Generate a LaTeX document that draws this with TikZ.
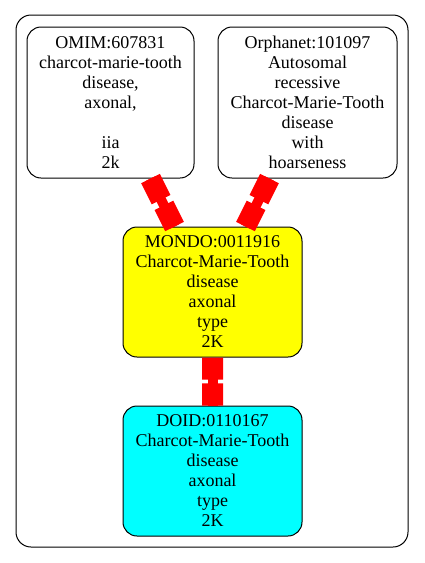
\documentclass[tikz,border=0pt]{standalone}
\usepackage{fontspec}
\setmainfont{Liberation Serif}
\usetikzlibrary{calc}

\definecolor{mondofill}{RGB}{255,255,0}
\definecolor{doidfill}{RGB}{0,255,255}
\definecolor{linkred}{RGB}{255,0,0}

\tikzset{
  term/.style = {draw, rounded corners=14pt, align=center, inner sep=0pt, line width=1pt,
    font=\rmfamily\fontsize{18}{20}\selectfont},
  link/.style = {linkred, line width=21pt},
  neck/.style = {linkred, line width=10pt},
}

\begin{document}
\begin{tikzpicture}[x=1pt, y=-1pt]
  \useasboundingbox (0,0) rectangle (424,563);
  % cluster frame
  \draw[rounded corners=15pt, line width=1pt] (16,15) rectangle (408,547);

  \node[term, minimum width=167pt, minimum height=151pt] (omim) at (110.5,102.5)
    {OMIM:607831\\charcot-marie-tooth\\disease,\\axonal,\\\mbox{}\\iia\\2k};
  \node[term, minimum width=179pt, minimum height=151pt] (orpha) at (307.5,102.5)
    {Orphanet:101097\\Autosomal\\recessive\\Charcot-Marie-Tooth\\disease\\with\\hoarseness};
  \node[term, fill=mondofill, minimum width=179pt, minimum height=130pt] (mondo) at (212.5,292)
    {MONDO:0011916\\Charcot-Marie-Tooth\\disease\\axonal\\type\\2K};
  \node[term, fill=doidfill, minimum width=179pt, minimum height=130pt] (doid) at (212.5,471)
    {DOID:0110167\\Charcot-Marie-Tooth\\disease\\axonal\\type\\2K};

  % edge ends
  \coordinate (e1a) at ([xshift=40pt]omim.south);
  \coordinate (e1b) at ([xshift=-38pt]mondo.north);
  \coordinate (e2a) at ([xshift=-38pt]orpha.south);
  \coordinate (e2b) at ([xshift=33pt]mondo.north);
  \coordinate (e3a) at (mondo.south);
  \coordinate (e3b) at (doid.north);

  \foreach \a/\b/\g in {e1a/e1b/0.06, e2a/e2b/0.06, e3a/e3b/0.04} {
    \draw[neck] (\a) -- (\b);
    \draw[link] (\a) -- ($(\a)!0.5-\g!(\b)$);
    \draw[link] ($(\a)!0.5+\g!(\b)$) -- (\b);
  }
\end{tikzpicture}
\end{document}
